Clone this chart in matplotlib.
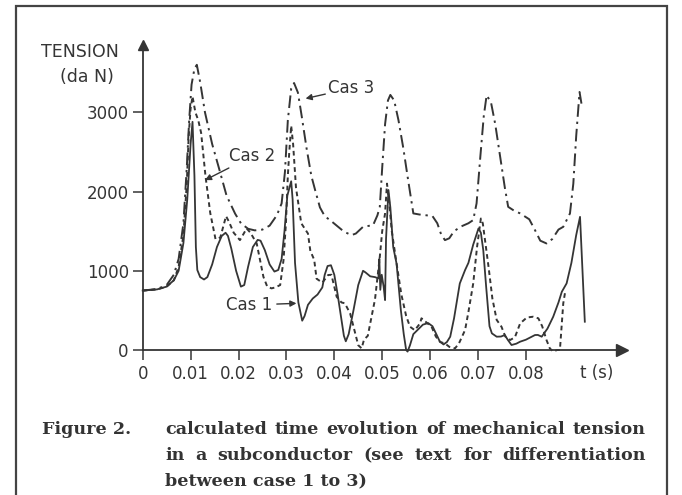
import matplotlib
matplotlib.use("Agg")
import matplotlib.pyplot as plt
from matplotlib.patches import Rectangle

# ---------------- data (time in ms, tension in daN) ----------------
cas1_ms = [0, 3, 5, 6.5, 7.5, 8.5, 9.3, 10.0, 10.4, 10.8, 11.1, 11.4, 12.0, 12.8, 13.5, 14.5, 15.5,
           16.5, 17.3, 17.8, 18.5, 19.5, 20.5, 21.2, 22.0, 23.0, 24.0, 24.6, 25.5, 26.5, 27.5, 28.3,
           29.0, 29.6, 30.2, 31.0, 31.3, 31.8, 32.5, 33.3, 33.8, 34.5, 35.5, 36.5, 37.5, 38.0, 38.6,
           39.3, 40.0, 40.7, 41.4, 42.0, 42.4, 43.0, 44.0, 45.0, 46.0, 46.5, 47.5, 48.5, 49.2, 49.4,
           49.6, 49.9, 50.3, 50.6, 50.8, 51.3, 51.7, 52.3, 53.0, 53.9, 54.5, 55.0, 55.3, 55.8, 56.5,
           57.5, 58.5, 59.6, 60.5, 61.3, 62.0, 62.8, 63.5, 64.2, 65.0, 66.2, 67.3, 68.0, 69.0, 70.1,
           70.6, 71.1, 71.7, 72.4, 72.9, 73.9, 74.8, 75.6, 76.2, 77.0, 78.0, 78.8, 80.0, 81.9, 82.5,
           83.3, 84.5, 85.7, 86.8, 87.5, 88.5, 89.5, 90.5, 91.3, 92.3]
cas1_val = [750, 765, 800, 880, 1000, 1350, 1900, 2600, 2880, 2200, 1300, 1010, 920, 890, 920, 1080, 1300,
            1440, 1480, 1440, 1280, 1000, 800, 820, 1050, 1300, 1390, 1380, 1260, 1080, 990, 1010,
            1150, 1500, 1950, 2130, 1900, 1100, 600, 370, 430, 570, 650, 700, 790, 950, 1060,
            1070, 950, 700, 420, 180, 110, 200, 500, 820, 1000, 980, 930, 920, 904, 1150,
            760, 950, 800, 630, 1400, 2020, 1800, 1300, 1090, 500, 200, 0, -20, 60, 200,
            260, 320, 340, 300, 200, 110, 70, 100, 168, 400, 840, 1009, 1100, 1330, 1534,
            1480, 1261, 800, 300, 210, 168, 170, 189, 130, 63, 80, 105, 130, 189, 190,
            168, 270, 420, 600, 735, 841, 1100, 1450, 1681, 357]

cas2_ms = [0, 3, 5, 6.5, 7.5, 8.5, 9.2, 9.6, 10.0, 10.4, 11.0, 11.6, 12.2, 13.1, 14.1, 15.2, 16.2,
           17.0, 17.4, 18.0, 19.0, 20.3, 21.0, 21.7, 22.5, 23.8, 25.2, 26.0, 26.9, 27.7, 28.7, 29.4,
           29.9, 30.3, 30.6, 31.0, 31.4, 32.0, 33.1, 34.5, 35.0, 35.8, 36.3, 37.5, 38.7, 39.4, 40.5,
           41.5, 42.2, 43.3, 44.2, 45.0, 45.7, 46.2, 47.0, 47.5, 48.5, 49.5, 50.0, 50.6, 51.0, 51.4,
           52.0, 53.0, 54.0, 55.0, 55.8, 56.8, 57.9, 58.2, 59.0, 60.3, 61.2, 62.1, 63.1, 64.0, 65.2,
           66.0, 67.3, 68.0, 69.0, 69.8, 70.6, 71.0, 72.2, 73.0, 73.9, 74.9, 75.7, 76.7, 77.7, 78.8,
           80.2, 81.5, 82.6, 83.4, 84.3, 85.0, 85.7, 86.5, 87.1, 87.8, 88.2]
cas2_val = [750, 765, 800, 880, 1050, 1450, 2100, 2700, 3050, 3200, 3000, 2900, 2740, 2200, 1730, 1400, 1420,
            1600, 1690, 1620, 1480, 1387, 1460, 1534, 1480, 1345, 924, 800, 778, 790, 820, 1135,
            1600, 2200, 2500, 2830, 2600, 2050, 1600, 1470, 1250, 1140, 900, 850, 946, 950, 672,
            600, 590, 462, 250, 60, 21, 130, 180, 336, 640, 1177, 1500, 1724, 2100, 1900,
            1500, 1093, 700, 430, 294, 250, 336, 400, 360, 294, 170, 100, 84, 40, 21,
            80, 252, 480, 840, 1300, 1660, 1600, 1050, 650, 380, 294, 170, 126, 160, 336,
            410, 420, 400, 300, 126, 20, -20, 0, 0, 589, 735]

cas3_ms = [0, 3, 5, 6.5, 7.5, 8.5, 9.2, 9.7, 10.2, 10.8, 11.3, 12.0, 13.0, 14.5, 15.9, 17.5, 19.3,
           20.5, 22.0, 23.4, 25.0, 26.5, 28.0, 29.0, 29.7, 30.3, 31.0, 31.6, 32.4, 33.2, 34.2, 35.2,
           36.0, 37.0, 38.0, 39.5, 40.5, 41.5, 42.5, 43.6, 44.5, 46.0, 48.1, 49.0, 49.5, 50.0, 50.6,
           51.2, 51.7, 52.5, 53.4, 54.4, 55.4, 56.5, 57.8, 59.0, 60.5, 61.5, 62.3, 63.1, 64.0, 65.0,
           66.5, 68.0, 69.0, 69.7, 70.5, 71.2, 71.8, 72.7, 73.6, 74.6, 75.6, 76.3, 77.5, 78.8, 80.7,
           81.9, 83.0, 84.3, 85.5, 86.8, 87.8, 89.2, 89.9, 90.5, 91.2, 91.6]
cas3_val = [750, 770, 820, 950, 1150, 1600, 2300, 2900, 3350, 3550, 3600, 3380, 3000, 2600, 2300, 1950, 1720,
            1600, 1530, 1510, 1520, 1570, 1700, 1850, 2250, 2900, 3300, 3370, 3250, 2950, 2550, 2200,
            2018, 1800, 1690, 1620, 1570, 1520, 1480, 1450, 1470, 1555, 1576, 1700, 1807, 2300, 2850,
            3150, 3220, 3150, 2900, 2550, 2150, 1724, 1710, 1702, 1690, 1600, 1460, 1387, 1410, 1500,
            1560, 1600, 1640, 1850, 2450, 2950, 3215, 3130, 2850, 2450, 2050, 1807, 1760, 1724, 1650,
            1513, 1380, 1345, 1400, 1520, 1555, 1724, 2100, 2700, 3257, 3110]

x_ticks = [0, 0.01, 0.02, 0.03, 0.04, 0.05, 0.06, 0.07, 0.08]
x_labels = ["0", "0.01", "0.02", "0.03", "0.04", "0.05", "0.06", "0.07", "0.08"]
y_ticks = [0, 1000, 2000, 3000]
y_labels = ["0", "1000", "2000", "3000"]

caption_lines = ["calculated time evolution of mechanical tension",
                 "in a subconductor (see text for differentiation",
                 "between case 1 to 3)"]

# ---------------- figure ----------------
W, H = 682, 495
ink = "#353535"
fs = 12
fig = plt.figure(figsize=(W / 100, H / 100), dpi=100)
fig.patch.set_facecolor("white")

# outer frame
fig.patches.append(Rectangle((16 / W, -0.05), (667 - 16) / W, (H - 6) / H + 0.05,
                             transform=fig.transFigure, fill=False, ec="#444444", lw=1.6))

ax = fig.add_axes([142.7 / W, (H - 350) / H, (621.7 - 142.7) / W, (350 - 45) / H])
ax.set_xlim(0, 0.1)
ax.set_ylim(0, 3850)

t1 = [m / 1000 for m in cas1_ms]
t2 = [m / 1000 for m in cas2_ms]
t3 = [m / 1000 for m in cas3_ms]
ax.plot(t3, cas3_val, color=ink, lw=1.4, ls=(0, (6.5, 2.5, 1.2, 2.5)), clip_on=False)
ax.plot(t2, cas2_val, color=ink, lw=1.4, ls=(0, (2.4, 1.8)), clip_on=False)
ax.plot(t1, cas1_val, color=ink, lw=1.3, ls="-", clip_on=False)

for s in ["top", "right"]:
    ax.spines[s].set_visible(False)
for s in ["left", "bottom"]:
    ax.spines[s].set_color(ink)
    ax.spines[s].set_linewidth(1.3)

ax.plot([1], [0], marker=">", ms=9, color=ink, transform=ax.transAxes, clip_on=False)
ax.plot([0], [1], marker="^", ms=7, color=ink, transform=ax.transAxes, clip_on=False)

ax.set_xticks(x_ticks)
ax.set_xticklabels(x_labels)
ax.set_yticks(y_ticks)
ax.set_yticklabels(y_labels)
ax.tick_params(direction="out", length=7, width=1.1, colors=ink, labelsize=fs)
ax.tick_params(axis="y", pad=3)
ax.tick_params(axis="x", pad=4)

fig.text(597 / W, 1 - 373 / H, "t (s)", ha="center", va="center", fontsize=fs, color=ink)
fig.text(41 / W, 1 - 52 / H, "TENSION", ha="left", va="center", fontsize=12.5, color=ink)
fig.text(60 / W, 1 - 77 / H, "(da N)", ha="left", va="center", fontsize=12.5, color=ink)

arrow = dict(arrowstyle="-|>", color=ink, lw=1.0, mutation_scale=9, shrinkA=0, shrinkB=0)
ax.annotate("Cas 3", xy=(0.0340, 3174), xytext=(0.0387, 3304), ha="left", va="center",
            fontsize=fs, color=ink, arrowprops=arrow)
ax.annotate("Cas 2", xy=(0.0130, 2144), xytext=(0.0180, 2446), ha="left", va="center",
            fontsize=fs, color=ink, arrowprops=arrow)
ax.annotate("", xy=(0.0321, 589), xytext=(0.0280, 580), arrowprops=arrow)
ax.text(0.0174, 567, "Cas 1", ha="left", va="center", fontsize=fs, color=ink)

# caption
cap = dict(family="DejaVu Serif", weight="bold", fontsize=12.6, color="#333333", va="center")
fig.text(42 / W, 1 - 430 / H, "Figure 2.", ha="left", **cap)
renderer = fig.canvas.get_renderer()
x0, x1 = 165, 646
for i, (line, yp) in enumerate(zip(caption_lines, [430, 456, 481])):
    if i == len(caption_lines) - 1:
        fig.text(x0 / W, 1 - yp / H, line, ha="left", **cap)
        continue
    words = line.split()
    objs = [fig.text(0, 1 - yp / H, w, ha="left", **cap) for w in words]
    widths = [o.get_window_extent(renderer).width for o in objs]
    gap = (x1 - x0 - sum(widths)) / (len(words) - 1)
    x = x0
    for o, w in zip(objs, widths):
        o.set_x(x / W)
        x += w + gap

fig.savefig("out.png", dpi=100, facecolor="white")
